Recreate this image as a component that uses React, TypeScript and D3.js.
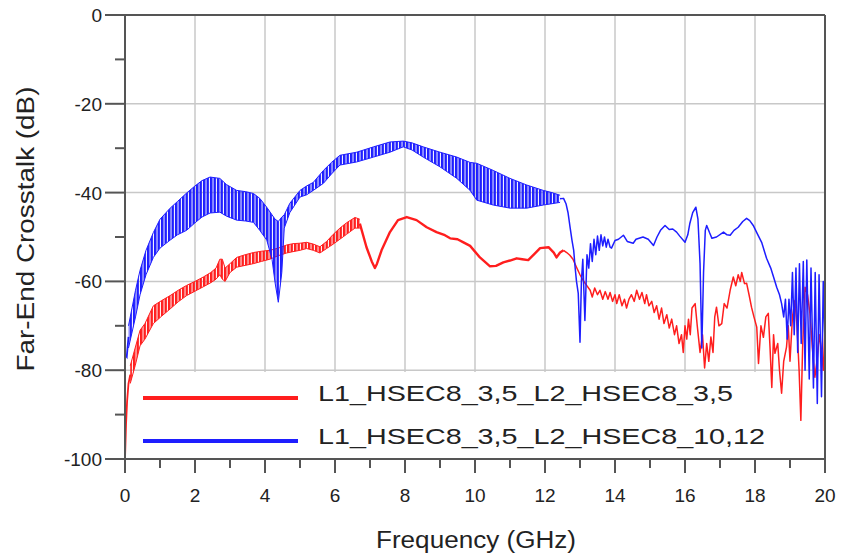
import React from "react";
import * as d3 from "d3";

const W = 841;
const H = 557;

const xTicks = [0, 2, 4, 6, 8, 10, 12, 14, 16, 18, 20];
const xMinorTicks = [1, 3, 5, 7, 9, 11, 13, 15, 17, 19];
const yTicks = [0, -20, -40, -60, -80, -100];
const yMinorTicks = [-10, -30, -50, -70, -90];
const legendLabels = ["L1_HSEC8_3,5_L2_HSEC8_3,5", "L1_HSEC8_3,5_L2_HSEC8_10,12"];
const xTitle = "Frequency (GHz)";
const yTitle = "Far-End Crosstalk (dB)";

// ---- Red series (L2_HSEC8_3,5) ----
const redStartFreq = [0, 0.03, 0.06, 0.1, 0.15];
const redStartDb = [-100, -92, -87, -83, -81];
const redBandFreq = [0.15, 0.29, 0.43, 0.57, 0.81, 1.05, 1.29, 1.52, 1.76, 2.0, 2.24, 2.45, 2.6, 2.71, 2.78, 2.86, 3.0, 3.19, 3.43, 3.67, 3.9, 4.14, 4.38, 4.62, 4.8, 5.0, 5.19, 5.38, 5.57, 5.76, 5.95, 6.14, 6.33, 6.57, 6.71];
const redBandUpper = [-79, -75, -71, -69.5, -65.5, -64.3, -63.2, -62, -60.9, -60, -59, -58, -57, -55, -55, -57, -56, -54.6, -54, -53.5, -53.2, -53, -52.5, -51.8, -51.5, -51.4, -51.2, -51.6, -52.2, -51, -49.4, -48, -46.8, -45.6, -46];
const redBandLower = [-83, -79, -74.5, -73, -69.5, -67.8, -66.2, -64.6, -63.2, -62.2, -61.2, -60.3, -59.5, -58.5, -59.5, -60, -58, -56.8, -56.4, -56, -55.5, -55, -54.2, -53.6, -53.3, -53, -52.6, -53, -53.6, -52.6, -51.6, -50.5, -49.4, -48, -48];
const redMidFreq = [6.71, 6.9, 7.05, 7.14, 7.2, 7.33, 7.57, 7.8, 8.05, 8.33, 8.62, 8.9, 9.14, 9.29, 9.5, 9.67, 9.86, 10.14, 10.43, 10.6, 10.81, 11.0, 11.19, 11.35, 11.52, 11.7, 11.86, 12.1, 12.25, 12.33, 12.43, 12.53];
const redMidDb = [-47, -52.3, -55.5, -57, -56, -53, -48.9, -46.2, -45.5, -46.2, -47.8, -48.9, -49.6, -50.3, -50.5, -51.2, -52, -54.6, -56.6, -56.5, -55.7, -55.3, -54.8, -55, -55.2, -53.8, -52.5, -52.3, -53.5, -54.6, -53.5, -53];
const redTailFreq = [12.53, 12.62, 12.71, 12.8, 12.9, 13.0, 13.09, 13.2, 13.29, 13.35, 13.42, 13.5, 13.57, 13.65, 13.72, 13.8, 13.86, 13.93, 14.0, 14.05, 14.12, 14.2, 14.27, 14.33, 14.4, 14.47, 14.55, 14.62, 14.7, 14.77, 14.85, 14.9, 14.97, 15.05, 15.12, 15.19, 15.26, 15.33, 15.4, 15.48, 15.55, 15.62, 15.7, 15.76, 15.83, 15.9, 15.95, 16.0, 16.05, 16.1, 16.15, 16.2, 16.29, 16.35, 16.43, 16.5, 16.56, 16.62, 16.68, 16.74, 16.8, 16.85, 16.9, 16.97, 17.05, 17.12, 17.2, 17.29, 17.38, 17.45, 17.52, 17.58, 17.62, 17.7, 17.76, 17.83, 17.9, 17.97, 18.05, 18.1, 18.17, 18.24, 18.31, 18.38, 18.43, 18.48, 18.53, 18.57, 18.65, 18.7, 18.76, 18.82, 18.9, 18.95, 19.0, 19.07, 19.14, 19.2, 19.26, 19.31, 19.36, 19.43, 19.5, 19.57, 19.64, 19.71, 19.77, 19.84, 19.9, 19.95, 20.0];
const redTailDb = [-53, -53.5, -54.1, -55, -56.8, -58.5, -59.8, -61, -62, -63.5, -61.5, -63, -62, -64, -62.3, -64, -62.5, -64.5, -63, -65, -63, -65.5, -64, -66, -64, -63, -64.5, -62, -64, -62.5, -65, -63, -65.5, -64.5, -67, -65.5, -68.5, -66, -69.5, -67.5, -70.5, -68.5, -72, -70, -74, -72, -76, -70, -73, -68.5, -72, -66, -65, -70, -76, -72, -79.5, -74, -78, -72.5, -76, -68, -65.8, -70, -69.5, -65, -66, -62, -59, -61, -58.5, -60, -58, -60.5, -60.4, -63, -65.8, -68, -70.3, -78.5, -70, -72.6, -68, -67.2, -75, -83.9, -72, -76.2, -74, -80, -85.2, -78, -74.8, -70, -78, -68, -64.3, -70, -80, -91.3, -75, -61.3, -63, -67.2, -75, -81.6, -78, -72, -75.5, -80, -70.3];

// ---- Blue series (L2_HSEC8_10,12) ----
const blueStartFreq = [0, 0.05, 0.1];
const blueStartDb = [-76.5, -77, -72.5];
const blueBandFreq = [0.1, 0.3, 0.43, 0.6, 0.81, 1.0, 1.29, 1.5, 1.76, 2.0, 2.2, 2.43, 2.71, 2.9, 3.19, 3.45, 3.67, 3.85, 4.05, 4.2, 4.29, 4.38, 4.48, 4.55, 4.71, 5.0, 5.19, 5.38, 5.67, 5.9, 6.14, 6.62, 7.1, 7.57, 7.95, 8.2, 8.52, 9.0, 9.48, 9.86, 10.05, 10.52, 11.0, 11.48, 11.95, 12.2, 12.43];
const blueBandUpper = [-70, -62, -57.5, -53, -49, -46, -43.5, -42, -40.1, -38.5, -37.3, -36.5, -36.8, -38.2, -39.5, -39.8, -40.2, -41.3, -43.3, -45, -46, -46.5, -45.5, -45, -42.4, -39.5, -38.5, -37.7, -35, -33.2, -31.6, -30.9, -29.7, -28.6, -28.4, -28.8, -29.7, -30.9, -32, -33.2, -33.4, -35, -36.8, -38.3, -39.5, -40, -40.6];
const blueBandLower = [-75, -68, -63, -58.5, -54.6, -52.5, -50.7, -49.5, -48.5, -46.8, -45.5, -44.6, -44.4, -45.3, -46.2, -46.4, -46.7, -48.5, -50.7, -55, -60.4, -64.7, -58, -48, -44.5, -41, -40.5, -39.5, -37.9, -35.8, -33.8, -33.1, -32, -30.9, -29.7, -30.4, -32, -34.2, -36.8, -39.5, -41.7, -42.8, -43.5, -43.5, -42.8, -42.5, -42.2];
const blueTailFreq = [12.43, 12.53, 12.6, 12.66, 12.72, 12.77, 12.82, 12.86, 12.9, 12.95, 13.0, 13.04, 13.08, 13.14, 13.2, 13.25, 13.3, 13.35, 13.4, 13.45, 13.5, 13.55, 13.6, 13.65, 13.7, 13.75, 13.8, 13.86, 13.9, 14.0, 14.1, 14.24, 14.35, 14.52, 14.6, 14.8, 14.95, 15.1, 15.2, 15.3, 15.43, 15.55, 15.65, 15.76, 15.85, 16.0, 16.08, 16.14, 16.22, 16.31, 16.37, 16.43, 16.48, 16.53, 16.58, 16.62, 16.7, 16.77, 16.9, 17.1, 17.2, 17.29, 17.4, 17.52, 17.65, 17.76, 17.85, 17.95, 18.05, 18.19, 18.33, 18.45, 18.55, 18.62, 18.7, 18.76, 18.82, 18.87, 18.92, 18.97, 19.02, 19.07, 19.12, 19.17, 19.22, 19.27, 19.32, 19.38, 19.43, 19.48, 19.55, 19.6, 19.67, 19.72, 19.78, 19.83, 19.9, 19.95, 20.0];
const blueTailDb = [-41.4, -41.3, -42.5, -44.6, -48, -50.7, -53, -56.8, -60, -62.7, -73.7, -60, -55, -68.8, -54, -57, -51.5, -55.5, -50.5, -54, -49.8, -53, -49.5, -52, -50, -52.3, -50.5, -52.3, -52.5, -50.8, -50.5, -49.6, -51, -51.4, -50.5, -50, -50.5, -51.9, -50, -48.5, -47.4, -48.3, -48.2, -48.9, -49.8, -51.2, -49.5, -46.9, -44.5, -43.3, -46, -56, -75, -58, -48.5, -47.4, -49, -50.3, -50, -48.9, -49.5, -49.6, -48.5, -47.8, -46.5, -45.8, -46.3, -47.4, -49, -51.2, -54.8, -57, -59.5, -61.3, -63, -65, -68, -64, -73, -64, -70, -58, -72, -57, -76, -56, -74, -55.5, -80, -55.2, -82, -57, -84, -58, -87.5, -58.5, -86, -60, -75];

const RED = "#ff1e1e";
const BLUE = "#1e1eff";
const AXIS = "#555555";
const GRID = "#c8c8c8";
const FONT = "'Liberation Sans', Arial, Helvetica, sans-serif";

export default function App() {
  const x = d3.scaleLinear().domain([0, 20]).range([125, 825]);
  const y = d3.scaleLinear().domain([-100, 0]).range([459, 15]);
  const [x0, x1] = x.range();
  const [yB, yT] = y.range();

  const line = d3
    .line<[number, number]>()
    .x((d) => x(d[0]))
    .y((d) => y(d[1]));
  const area = d3
    .area<[number, number, number]>()
    .x((d) => x(d[0]))
    .y0((d) => y(d[2]))
    .y1((d) => y(d[1]));

  const zip2 = (a: number[], b: number[]) => a.map((v, i) => [v, b[i]] as [number, number]);
  const zip3 = (a: number[], b: number[], c: number[]) =>
    a.map((v, i) => [v, b[i], c[i]] as [number, number, number]);

  const series = [
    {
      color: RED,
      id: "red",
      start: zip2(redStartFreq, redStartDb),
      band: zip3(redBandFreq, redBandUpper, redBandLower),
      mid: zip2(redMidFreq, redMidDb),
      tail: zip2(redTailFreq, redTailDb),
    },
    {
      color: BLUE,
      id: "blue",
      start: zip2(blueStartFreq, blueStartDb),
      band: zip3(blueBandFreq, blueBandUpper, blueBandLower),
      mid: [] as [number, number][],
      tail: zip2(blueTailFreq, blueTailDb),
    },
  ];

  const legendY = [398, 441];
  const legendLen = [415, 447];

  return (
    <svg
      width={W}
      height={H}
      style={{ position: "absolute", left: 0, top: 0, background: "#fff" }}
      fontFamily={FONT}
    >
      <defs>
        <clipPath id="plotClip">
          <rect x={x0} y={yT} width={x1 - x0} height={yB - yT} />
        </clipPath>
        {series.map((s) => (
          <pattern
            key={s.id}
            id={`stripes-${s.id}`}
            width={3.5}
            height={4}
            patternUnits="userSpaceOnUse"
          >
            <rect x={0} y={0} width={2.5} height={4} fill={s.color} />
          </pattern>
        ))}
      </defs>
      <rect x={0} y={0} width={W} height={H} fill="#fff" />

      {/* grid */}
      {xTicks.slice(1, -1).map((t) => (
        <line key={`gx${t}`} x1={x(t)} x2={x(t)} y1={yT} y2={yB} stroke={GRID} strokeWidth={1.5} />
      ))}
      {yTicks.slice(1, -1).map((t) => (
        <line key={`gy${t}`} x1={x0} x2={x1} y1={y(t)} y2={y(t)} stroke={GRID} strokeWidth={1.5} />
      ))}

      {/* data */}
      <g clipPath="url(#plotClip)">
        {series.map((s) => (
          <g key={s.id}>
            <path d={area(s.band) || ""} fill={`url(#stripes-${s.id})`} />
            <path d={line(s.band.map((d) => [d[0], d[1]] as [number, number])) || ""} fill="none" stroke={s.color} strokeWidth={1} />
            <path d={line(s.band.map((d) => [d[0], d[2]] as [number, number])) || ""} fill="none" stroke={s.color} strokeWidth={1} />
            <path d={line(s.start) || ""} fill="none" stroke={s.color} strokeWidth={1.8} />
            {s.mid.length > 0 && (
              <path d={line(s.mid) || ""} fill="none" stroke={s.color} strokeWidth={2.4} strokeLinejoin="round" />
            )}
            <path d={line(s.tail) || ""} fill="none" stroke={s.color} strokeWidth={1.5} strokeLinejoin="round" />
          </g>
        ))}
      </g>

      {/* legend box */}
      <rect x={136} y={372} width={632} height={86} fill="#fff" />
      {series.map((s, i) => (
        <g key={`lg${i}`}>
          <line x1={143} x2={298} y1={legendY[i]} y2={legendY[i]} stroke={s.color} strokeWidth={4} />
          <text
            x={318}
            y={legendY[i] + 3}
            fontSize={22}
            fill="#222"
            textLength={legendLen[i]}
            lengthAdjust="spacingAndGlyphs"
          >
            {legendLabels[i]}
          </text>
        </g>
      ))}

      {/* frame */}
      <line x1={x0} x2={x1} y1={yT} y2={yT} stroke={AXIS} strokeWidth={2} />
      <line x1={x1} x2={x1} y1={yT} y2={yB} stroke={AXIS} strokeWidth={2} />
      <line x1={x0} x2={x0} y1={yT} y2={yB} stroke={AXIS} strokeWidth={2} />
      <line x1={x0} x2={x1} y1={yB} y2={yB} stroke={AXIS} strokeWidth={2} />

      {/* y ticks */}
      {yTicks.map((t) => (
        <g key={`yt${t}`}>
          <line x1={x0 - 20} x2={x0} y1={y(t)} y2={y(t)} stroke={AXIS} strokeWidth={2} />
          <text x={x0 - 23} y={y(t) + 7} textAnchor="end" fontSize={19} fill="#222">
            {t}
          </text>
        </g>
      ))}
      {yMinorTicks.map((t) => (
        <line key={`ym${t}`} x1={x0 - 10} x2={x0} y1={y(t)} y2={y(t)} stroke={AXIS} strokeWidth={2} />
      ))}

      {/* x ticks */}
      {xTicks.map((t) => (
        <g key={`xt${t}`}>
          <line x1={x(t)} x2={x(t)} y1={yB} y2={yB + 14} stroke={AXIS} strokeWidth={2} />
          <text x={x(t)} y={yB + 43} textAnchor="middle" fontSize={19} fill="#222">
            {t}
          </text>
        </g>
      ))}
      {xMinorTicks.map((t) => (
        <line key={`xm${t}`} x1={x(t)} x2={x(t)} y1={yB} y2={yB + 9} stroke={AXIS} strokeWidth={2} />
      ))}

      {/* axis titles */}
      <text
        x={476}
        y={548}
        textAnchor="middle"
        fontSize={23}
        fill="#222"
        textLength={200}
        lengthAdjust="spacingAndGlyphs"
      >
        {xTitle}
      </text>
      <text
        transform={`translate(34, 229) rotate(-90)`}
        textAnchor="middle"
        fontSize={23}
        fill="#222"
        textLength={285}
        lengthAdjust="spacingAndGlyphs"
      >
        {yTitle}
      </text>
    </svg>
  );
}
